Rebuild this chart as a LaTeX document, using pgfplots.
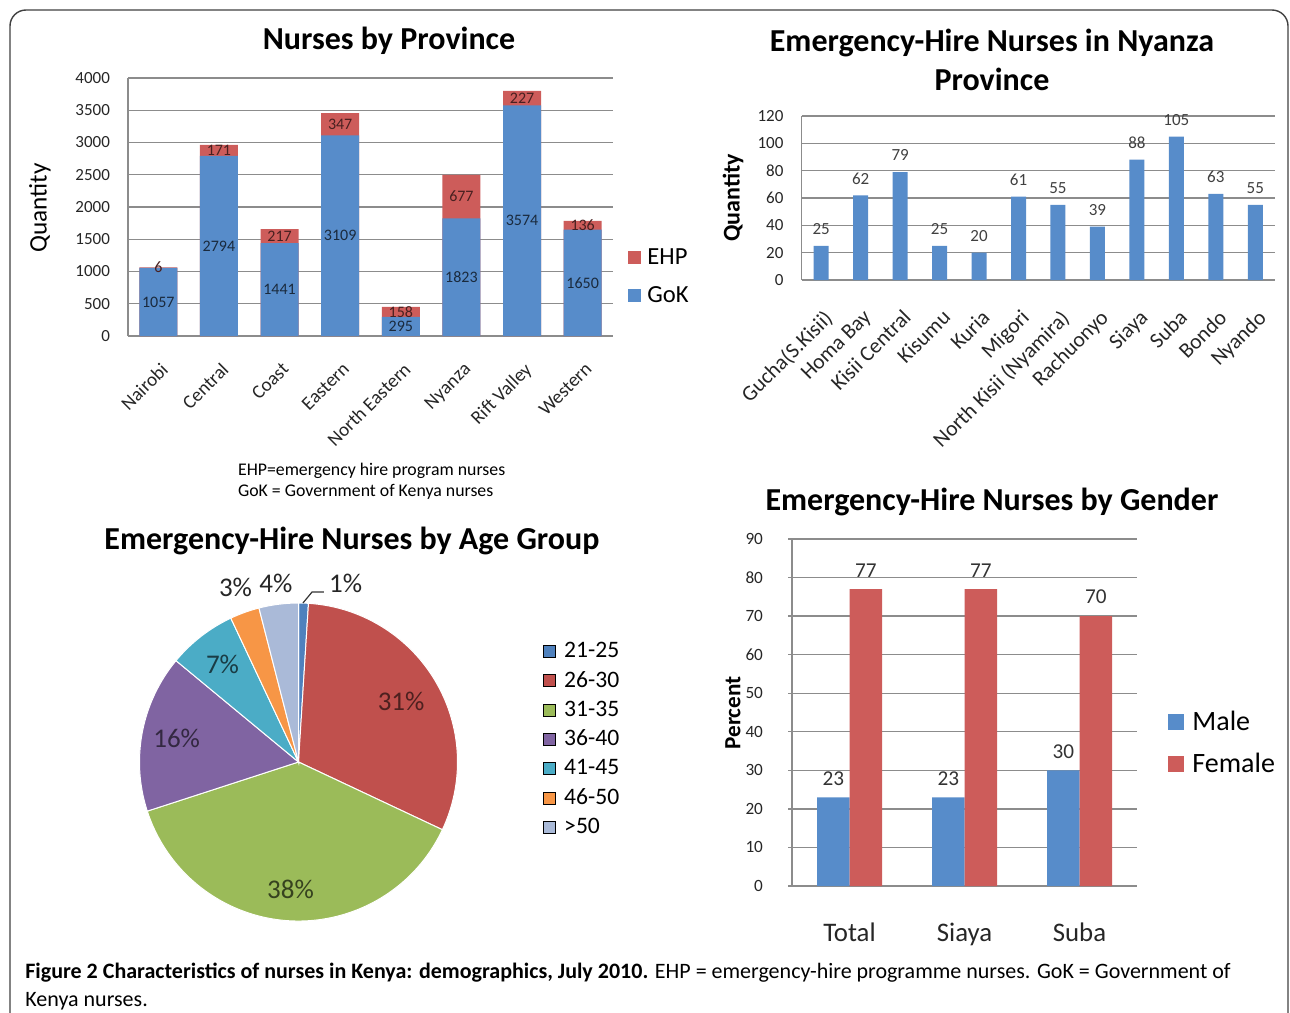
\documentclass[border=0pt]{standalone}
\usepackage{fontspec}
\setmainfont{Carlito}
\usepackage{pgfplots}
\pgfplotsset{compat=1.18}
\usepackage{pgfplotstable}

\definecolor{cblue}{HTML}{578CCA}
\definecolor{cred}{HTML}{CD5C5A}
\definecolor{pA}{HTML}{4F81BD}
\definecolor{pB}{HTML}{C0504D}
\definecolor{pC}{HTML}{9BBB59}
\definecolor{pD}{HTML}{8064A2}
\definecolor{pE}{HTML}{4BACC6}
\definecolor{pF}{HTML}{F79646}
\definecolor{pG}{HTML}{AABAD8}

\pgfplotstableread{
x gok ehp
0 1057 6
1 2794 171
2 1441 217
3 3109 347
4 295 158
5 1823 677
6 3574 227
7 1650 136
}\provtable

\pgfplotstableread{
x n
0 25
1 62
2 79
3 25
4 20
5 61
6 55
7 39
8 88
9 105
10 63
11 55
}\nyanzatable

\pgfplotsset{
  excel/.style={
    scale only axis,
    axis x line*=bottom, axis y line*=left,
    axis line style={black!45, line width=0.7pt},
    ymajorgrids, grid style={black!45, line width=0.7pt},
    major tick length=0pt,
    xtick style={draw=none},
    tick label style={text=black!85},
    y tick label style={font=\fontsize{8.5}{10}\selectfont, xshift=-5.5pt},
    /pgf/number format/assume math mode=true,
    /pgf/number format/1000 sep={},
    scaled y ticks=false,
    clip=false,
  },
  sq/.style={legend image code/.code={\fill[##1] (0pt,-#1) rectangle (2*#1,#1);}},
}

\begin{document}
\begin{tikzpicture}
\useasboundingbox (0,0) rectangle (645pt,-506pt);
\draw[black!75, line width=0.7pt, rounded corners=8pt] (5pt,-540pt) -- (5pt,-5pt) -- (644pt,-5pt) -- (644pt,-540pt);

% ---------- Chart 1 ----------
\node[font=\bfseries\fontsize{16}{19}\selectfont] at (194.5pt,-20.5pt) {Nurses by Province};
\node[rotate=90, font=\fontsize{12.6}{15}\selectfont] at (20pt,-104pt) {Quantity};
\begin{axis}[excel,
  at={(64pt,-168pt)}, anchor=south west,
  width=242.5pt, height=129pt,
  xmin=-0.5, xmax=7.5, ymin=0, ymax=4000, ytick={0,500,...,4000},
  xtick={0,...,7},
  xticklabels={Nairobi,Central,Coast,Eastern,North Eastern,Nyanza,Rift Valley,Western},
  x tick label style={rotate=45, anchor=north east, font=\fontsize{9.6}{11}\selectfont, yshift=-6pt, xshift=-5pt},
  bar width=19pt,
  legend style={at={(1.031,0.23)}, anchor=west, draw=none, fill=none,
    font=\fontsize{12.3}{14}\selectfont, row sep=5.5pt, inner sep=0pt,
    /tikz/every odd column/.append style={column sep=1pt}},
  legend cell align=left,
]
\addplot[ybar, bar shift=0pt, fill=cred, draw=none, sq=3.25pt]
  table[x=x, y expr=\thisrow{gok}+\thisrow{ehp}] {\provtable};
\addlegendentry{EHP}
\addplot[ybar, bar shift=0pt, fill=cblue, draw=none, sq=3.25pt]
  table[x=x, y=gok] {\provtable};
\addlegendentry{GoK}
\addplot[draw=none, mark=none, forget plot, nodes near coords, point meta=explicit,
  every node near coord/.append style={anchor=center, font=\fontsize{8}{9}\selectfont, text=cblue!30!black}]
  table[x=x, y expr=\thisrow{gok}/2, meta=gok] {\provtable};
\addplot[draw=none, mark=none, forget plot, nodes near coords, point meta=explicit,
  every node near coord/.append style={anchor=center, font=\fontsize{8}{9}\selectfont, text=cred!35!black}]
  table[x=x, y expr=\thisrow{gok}+\thisrow{ehp}/2, meta=ehp] {\provtable};
\end{axis}
\node[anchor=north west, align=left, font=\fontsize{8.9}{10.5}\selectfont] at (115.5pt,-228pt)
  {EHP=emergency hire program nurses\\GoK = Government of Kenya nurses};

% ---------- Chart 2 ----------
\node[align=center, font=\bfseries\fontsize{16}{19.5}\selectfont] at (496pt,-30pt)
  {Emergency-Hire Nurses in Nyanza\\Province};
\node[rotate=90, font=\bfseries\fontsize{12}{14}\selectfont] at (366.5pt,-99pt) {Quantity};
\begin{axis}[excel,
  at={(400.75pt,-140pt)}, anchor=south west,
  width=236.75pt, height=82pt,
  xmin=-0.5, xmax=11.5, ymin=0, ymax=120, ytick={0,20,...,120},
  xtick={0,...,11},
  xticklabels={{Gucha(S.Kisii)},{Homa Bay},{Kisii Central},{Kisumu},{Kuria},{Migori},{North Kisii (Nyamira)},{Rachuonyo},{Siaya},{Suba},{Bondo},{Nyando}},
  x tick label style={rotate=45, anchor=north east, font=\fontsize{10.8}{12}\selectfont, yshift=-7pt, xshift=-6pt},
  bar width=7.5pt,
]
\addplot[ybar, bar shift=0pt, fill=cblue, draw=none, nodes near coords,
  every node near coord/.append style={font=\fontsize{8.5}{10}\selectfont, text=black!75, yshift=2pt}]
  table[x=x, y=n] {\nyanzatable};
\end{axis}

% ---------- Chart 3 (pie) ----------
\node[font=\bfseries\fontsize{16}{19}\selectfont] at (176pt,-270.5pt) {Emergency-Hire Nurses by Age Group};
\begin{axis}[
  at={(149.25pt,-381pt)}, anchor=center,
  scale only axis, width=159pt, height=159pt,
  xmin=-1, xmax=1, ymin=-1, ymax=1,
  axis lines=none, clip=false,
  legend style={at={(1.269,0.89)}, anchor=north west, draw=none, fill=none,
    font=\fontsize{11.8}{14}\selectfont, row sep=1.35pt, inner sep=0pt,
    /tikz/every odd column/.append style={column sep=2pt}},
  legend cell align=left,
  legend image code/.code={\fill[#1] (0pt,-3pt) rectangle (6pt,3pt);},
]
\addlegendimage{fill=pA}
\addlegendimage{fill=pB}
\addlegendimage{fill=pC}
\addlegendimage{fill=pD}
\addlegendimage{fill=pE}
\addlegendimage{fill=pF}
\addlegendimage{fill=pG}
\legend{21-25,26-30,31-35,36-40,41-45,46-50,>50}
\pgfplotsextra{
  \gdef\cum{0}
  \foreach \v/\c/\lr/\lc in {1/pA/0/black, 31/pB/0.75/pB!40!black, 38/pC/0.8/pC!35!black,
      16/pD/0.78/pD!40!black, 7/pE/0.78/pE!35!black, 3/pF/1.17/black!85, 4/pG/1.13/black!85}{
    \pgfmathsetmacro\a{90-3.6*\cum}
    \pgfmathsetmacro\b{90-3.6*(\cum+\v)}
    \pgfmathsetmacro\m{(\a+\b)/2}
    \fill[\c, draw=white, line width=0.5pt] (axis cs:0,0) -- (axis cs:{cos(\a)},{sin(\a)})
      arc[start angle=\a, end angle=\b, radius=79.5pt] -- cycle;
    \ifnum\v>1
      \node[font=\fontsize{13.5}{15}\selectfont, text=\lc] at (axis cs:{\lr*cos(\m)},{\lr*sin(\m)}) {\v\%};
    \fi
    \pgfmathsetmacro\n{\cum+\v}\xdef\cum{\n}
  }
  \draw[black!80, line width=0.6pt] (axis cs:0.028,1.0) -- (axis cs:0.085,1.069) -- (axis cs:0.16,1.069);
  \node[font=\fontsize{13.5}{15}\selectfont, anchor=west, text=black!85, inner sep=0pt] at (axis cs:0.19,1.126) {1\%};
}
\end{axis}

% ---------- Chart 4 ----------
\node[font=\bfseries\fontsize{16}{19}\selectfont] at (496pt,-251pt) {Emergency-Hire Nurses by Gender};
\node[rotate=90, font=\bfseries\fontsize{11.6}{14}\selectfont] at (366.5pt,-356.5pt) {Percent};
\begin{axis}[excel,
  at={(396pt,-443pt)}, anchor=south west,
  width=172.5pt, height=173.5pt,
  xmin=-0.5, xmax=2.5, ymin=0, ymax=90, ytick={0,10,...,90},
  major tick length=2pt, tick align=outside,
  ytick style={black!45, line width=0.7pt},
  y tick label style={font=\fontsize{8.6}{10}\selectfont, xshift=-3.5pt},
  xtick={0,1,2}, xticklabels={Total,Siaya,Suba},
  x tick label style={font=\fontsize{13.4}{15}\selectfont, yshift=-13pt},
  ybar=0pt, bar width=16.25pt,
  legend style={at={(1.09,0.412)}, anchor=west, draw=none, fill=none,
    font=\fontsize{14}{16}\selectfont, row sep=6pt, inner sep=0pt,
    /tikz/every odd column/.append style={column sep=2pt}},
  legend cell align=left,
]
\addplot[fill=cblue, draw=none, sq=4pt, nodes near coords,
  every node near coord/.append style={font=\fontsize{10.6}{12}\selectfont, text=black!80, yshift=2.5pt}]
  coordinates {(0,23) (1,23) (2,30)};
\addlegendentry{Male}
\addplot[fill=cred, draw=none, sq=4pt, nodes near coords,
  every node near coord/.append style={font=\fontsize{10.6}{12}\selectfont, text=black!80, yshift=2.5pt}]
  coordinates {(0,77) (1,77) (2,70)};
\addlegendentry{Female}
\end{axis}

% ---------- Caption ----------
\node[anchor=base west, align=left, font=\fontsize{11}{14}\selectfont, inner sep=0pt] at (12.5pt,-503pt)
  {\textbf{Figure 2 Characteristics of nurses in Kenya: demographics, July 2010.} EHP = emergency-hire programme nurses. GoK = Government of\\Kenya nurses.};
\end{tikzpicture}
\end{document}
